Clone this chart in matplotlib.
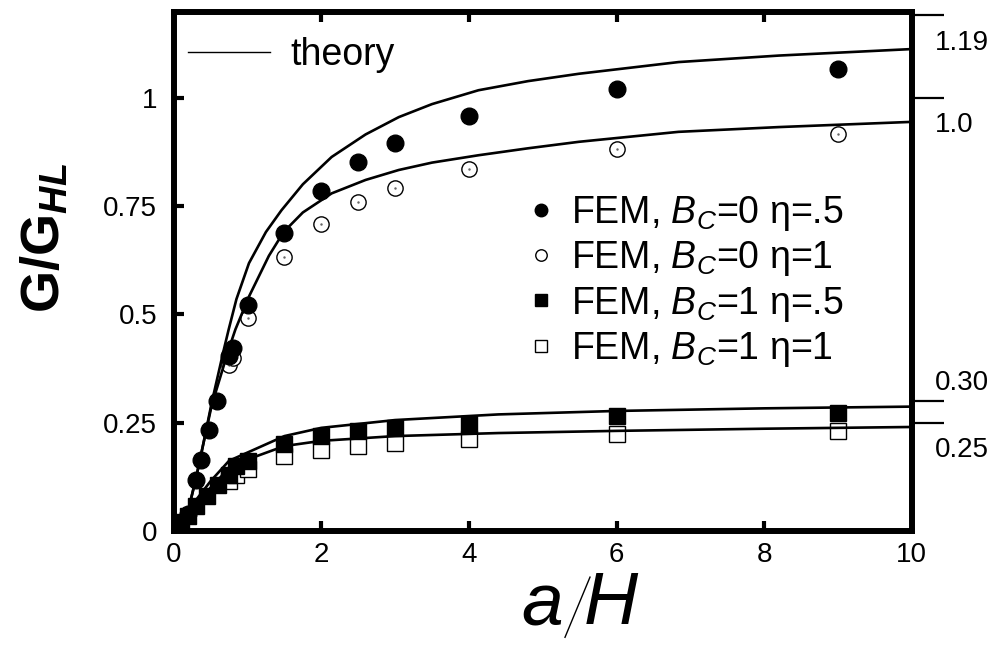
import numpy as np
import matplotlib.pyplot as plt
from matplotlib.lines import Line2D

plt.rcParams['font.family'] = ['Liberation Sans', 'DejaVu Sans']
plt.rcParams['mathtext.fontset'] = 'custom'
plt.rcParams['mathtext.rm'] = 'Liberation Sans'
plt.rcParams['mathtext.it'] = 'Liberation Sans:italic'
plt.rcParams['mathtext.bf'] = 'Liberation Sans:bold'
plt.rcParams['mathtext.bfit'] = 'Liberation Sans:bold:italic'

# FEM results
x_c05 = [0.2, 0.3, 0.375, 0.475, 0.58, 0.75, 0.8, 1.0, 1.5, 2.0, 2.5, 3.0, 4.0, 6.0, 9.0]
y_c05 = [0.04, 0.117, 0.163, 0.233, 0.30, 0.403, 0.422, 0.522, 0.688, 0.785, 0.851, 0.895, 0.957, 1.02, 1.067]
x_c1 = [0.75, 0.8, 1.0, 1.5, 2.0, 2.5, 3.0, 4.0, 6.0, 9.0]
y_c1 = [0.384, 0.40, 0.491, 0.633, 0.708, 0.760, 0.792, 0.836, 0.882, 0.915]
x_s05 = [0.1, 0.2, 0.3, 0.45, 0.6, 0.75, 0.85, 1.0, 1.5, 2.0, 2.5, 3.0, 4.0, 6.0, 9.0]
y_s05 = [0.02, 0.035, 0.058, 0.081, 0.106, 0.129, 0.15, 0.162, 0.200, 0.219, 0.231, 0.238, 0.246, 0.265, 0.273]
x_s1 = [0.75, 0.85, 1.0, 1.5, 2.0, 2.5, 3.0, 4.0, 6.0, 9.0]
y_s1 = [0.115, 0.13, 0.143, 0.173, 0.187, 0.196, 0.204, 0.212, 0.223, 0.231]

# theory curves, sampled from the figure
xt_c05 = [0.1, 0.2, 0.3, 0.4, 0.515, 0.68, 0.745, 0.85, 1.02, 1.25, 1.46, 1.75, 2.14, 2.6, 3.05, 3.5,
          4.13, 4.8, 5.49, 6.84, 8.2, 10.0]
yt_c05 = [0.0, 0.05, 0.12, 0.2, 0.296, 0.419, 0.465, 0.535, 0.618, 0.69, 0.74, 0.80, 0.863, 0.915, 0.955,
          0.985, 1.017, 1.038, 1.055, 1.082, 1.097, 1.112]
xt_c1 = [0.1, 0.2, 0.3, 0.4, 0.515, 0.745, 0.836, 1.02, 1.29, 1.49, 1.75, 2.14, 2.6, 3.05, 3.5, 4.13,
         4.8, 5.49, 6.84, 8.2, 10.0]
yt_c1 = [0.0, 0.05, 0.12, 0.2, 0.29, 0.419, 0.465, 0.541, 0.635, 0.69, 0.735, 0.779, 0.81, 0.833, 0.85,
         0.867, 0.883, 0.898, 0.921, 0.932, 0.944]
xt_s = [0.0, 0.25, 0.5, 0.75, 1.0, 1.5, 2.0, 3.0, 4.4, 6.0, 8.0, 10.0]
yt_s05 = [0.0, 0.06, 0.115, 0.162, 0.181, 0.219, 0.238, 0.256, 0.269, 0.277, 0.283, 0.287]
yt_s1 = [0.0, 0.05, 0.10, 0.145, 0.165, 0.196, 0.208, 0.219, 0.226, 0.231, 0.236, 0.240]

# asymptotes marked on the right
asym = [1.19, 1.0, 0.30, 0.25]
asym_labels = ['1.19', '1.0', '0.30', '0.25']
asym_offsets = [-20, -20, 13, -20]

fig = plt.figure(figsize=(10, 6.47), dpi=100)
ax = fig.add_axes([0.1737, 0.1793, 0.738, 0.8018])

# theory
for xs, ys in [(xt_c05, yt_c05), (xt_c1, yt_c1), (xt_s, yt_s05), (xt_s, yt_s1)]:
    ax.plot(xs, ys, color='black', lw=1.9, zorder=3)

# FEM points
ax.plot(x_c1, y_c1, 'o', ms=11, mfc='white', mec='black', mew=1.0, ls='none', zorder=2,
        label=r'FEM, $B_C$=0 η=1')
ax.plot(x_c1, y_c1, '.', ms=1.5, color='0.4', ls='none', zorder=2.1)
ax.plot(x_c05, y_c05, 'o', ms=12, mfc='black', mec='black', ls='none', zorder=2.5,
        label=r'FEM, $B_C$=0 η=.5')
ax.plot(x_s1, y_s1, 's', ms=11, mfc='white', mec='black', mew=1.0, ls='none', zorder=2,
        label=r'FEM, $B_C$=1 η=1')
ax.plot(x_s05, y_s05, 's', ms=11, mfc='black', mec='black', ls='none', zorder=2.5,
        label=r'FEM, $B_C$=1 η=.5')

ax.set_xlim(0, 10)
ax.set_ylim(0, 1.197)
ax.set_xticks([0, 2, 4, 6, 8, 10])
ax.set_yticks([0, 0.25, 0.5, 0.75, 1])
ax.set_yticklabels(['0', '0.25', '0.5', '0.75', '1'])
ax.tick_params(direction='in', length=7, width=3, top=True, right=True, labelsize=20)
ax.tick_params(axis='y', pad=12)
ax.tick_params(axis='x', pad=8)
for s in ax.spines.values():
    s.set_linewidth(4.3)

# outer ticks for the asymptotic values
ax2 = ax.twinx()
ax2.set_ylim(ax.get_ylim())
ax2.set_yticks(asym)
ax2.tick_params(direction='out', length=23, width=1.6, labelright=False)
for s in ax2.spines.values():
    s.set_visible(False)
for v, lab, off in zip(asym, asym_labels, asym_offsets):
    ax.annotate(lab, xy=(1.0, v), xycoords=('axes fraction', 'data'), xytext=(17, off),
                textcoords='offset points', ha='left', va='center', fontsize=20)

# legends
leg1 = ax.legend(handles=[Line2D([], [], color='black', lw=1.0)], labels=['theory'],
                 loc='upper left', bbox_to_anchor=(0.019, 0.952), frameon=False, fontsize=27,
                 handlelength=2.2, handletextpad=0.55, borderpad=0, borderaxespad=0)
ax.add_artist(leg1)
h, l = ax.get_legend_handles_labels()
order = [1, 0, 3, 2]
ax.legend([h[i] for i in order], [l[i] for i in order], loc='upper left',
          bbox_to_anchor=(0.472, 0.65), frameon=False, fontsize=27, markerscale=0.75,
          handlelength=1.0, handletextpad=0.3, labelspacing=0.17, borderpad=0, borderaxespad=0)

# axis labels
fig.text(0.045, 0.632, r'$\mathbf{G/G}_{\mathbfit{HL}}$', rotation=90, ha='center', va='center',
         fontsize=39)
fig.text(0.542, 0.063, 'a', style='italic', fontsize=54, ha='center', va='center')
fig.text(0.611, 0.065, 'H', style='italic', fontsize=54, ha='center', va='center')
fig.add_artist(Line2D([0.565, 0.590], [0.015, 0.108], color='black', lw=1.0,
                      transform=fig.transFigure))

fig.savefig('out.png', dpi=100)
